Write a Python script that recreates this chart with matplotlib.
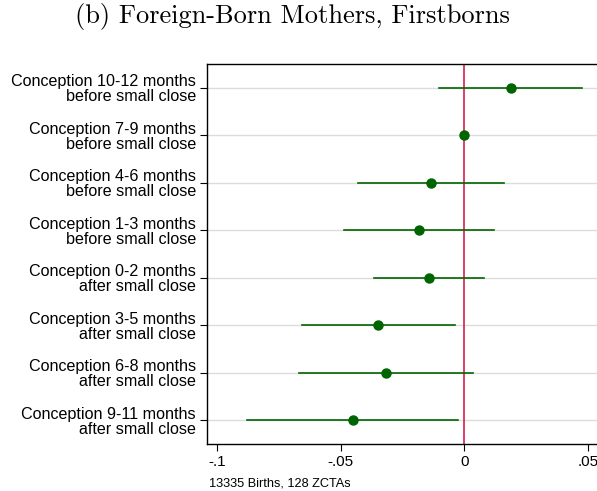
import matplotlib
matplotlib.use("Agg")
import matplotlib.pyplot as plt
import numpy as np

labels = [
    "Conception 10-12 months\nbefore small close",
    "Conception 7-9 months\nbefore small close",
    "Conception 4-6 months\nbefore small close",
    "Conception 1-3 months\nbefore small close",
    "Conception 0-2 months\nafter small close",
    "Conception 3-5 months\nafter small close",
    "Conception 6-8 months\nafter small close",
    "Conception 9-11 months\nafter small close",
]
coef = [0.0189, 0.0, -0.0134, -0.0182, -0.0142, -0.0348, -0.0316, -0.0449]
ci_low = [-0.0101, np.nan, -0.0429, -0.0486, -0.0364, -0.0656, -0.0668, -0.0879]
ci_high = [0.0478, np.nan, 0.0162, 0.0121, 0.0081, -0.0036, 0.0036, -0.0024]
xticks = [-0.1, -0.05, 0, 0.05]
xticklabels = ["-.1", "-.05", "0", ".05"]

fig = plt.figure(figsize=(5.97, 4.91), dpi=100)
ax = fig.add_axes([207/597, 1-444/491, 1-207/597, (444-64)/491])

y = np.arange(1, len(labels)+1)
green = "#006400"
for yi, lo, hi in zip(y, ci_low, ci_high):
    if not np.isnan(lo):
        ax.plot([lo, hi], [yi, yi], color=green, lw=1.2, zorder=3)
ax.plot(coef, y, "o", color=green, ms=6.5, zorder=4)
ax.axvline(0, color="#d4204f", lw=1.2, zorder=2)
for yi in y:
    ax.axhline(yi, color="#dcdcdc", lw=1, zorder=1)

ax.set_ylim(8.5, 0.5)
ax.set_xlim((207-464.3)/2470, (597-464.3)/2470)
ax.set_yticks(y)
ax.set_yticklabels(labels, fontfamily="Liberation Sans", fontsize=11.6, linespacing=1.0,
                   multialignment="right")
ax.set_xticks(xticks)
ax.set_xticklabels(xticklabels, fontfamily="Liberation Sans", fontsize=11)
ax.tick_params(axis="both", direction="out", length=5, width=0.8, pad=3)
ax.spines["right"].set_visible(False)
for s in ["left", "bottom", "top"]:
    ax.spines[s].set_linewidth(1.0)

fig.text(292/597, 1-17/491, "(b) Foreign-Born Mothers, Firstborns", fontfamily="cmr10",
         fontsize=19, ha="center", va="center")
fig.text(209/597, 1-483/491, "13335 Births, 128 ZCTAs", fontfamily="Liberation Sans",
         fontsize=9.2, ha="left", va="center")

fig.savefig("out.png", dpi=100)
